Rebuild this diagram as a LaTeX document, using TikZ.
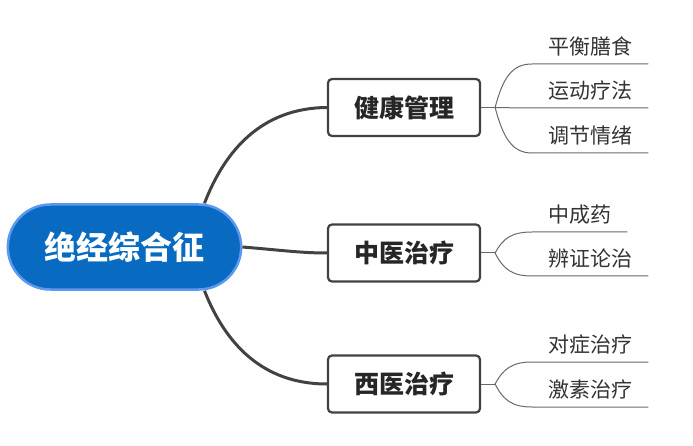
\documentclass[tikz,border=0pt]{standalone}
\usepackage{fontspec}
\newfontfamily\cjk{Noto Sans CJK SC}
\usetikzlibrary{shapes.misc,positioning}
\definecolor{rootblue}{RGB}{8,106,192}
\definecolor{rootedge}{RGB}{92,152,240}
\definecolor{stemgray}{RGB}{66,66,66}
\definecolor{twiggray}{RGB}{105,105,105}
% fork -> leaf, then the underline of the leaf
\newcommand{\twig}[3]{%
  \draw[twigline] (#1) .. controls +(8,#3) and +(-20,0) .. (#2.south west)
    -- (#2.south east);}

\begin{document}
\begin{tikzpicture}[x=1pt,y=-1pt,
    rootnode/.style={rounded rectangle,fill=rootblue,draw=rootedge,line width=2.5pt,
      minimum width=240pt,minimum height=85pt,text=white,
      font=\cjk\bfseries\fontsize{32}{36}\selectfont},
    branchbox/.style={rectangle,rounded corners=4pt,fill=white,draw=stemgray,
      line width=2.2pt,minimum width=152pt,minimum height=57pt,text=black!85,
      font=\cjk\bfseries\fontsize{25}{28}\selectfont},
    leaf/.style={anchor=south west,inner xsep=16pt,inner ysep=9pt,text depth=0pt,
      text=black!80,font=\cjk\fontsize{21}{24}\selectfont},
    stem/.style={draw=stemgray,line width=3pt},
    twigline/.style={draw=twiggray,line width=1pt}]
  \useasboundingbox (0,0) rectangle (693,446);

  \node[rootnode] (root) at (124.5,247) {绝经综合征};

  \node[branchbox] (hm) at (404,107.5) {健康管理};
  \node[branchbox] (tcm) at (404,253) {中医治疗};
  \node[branchbox] (wm) at (404,384) {西医治疗};

  % root -> branches
  \draw[stem] ([xshift=80pt]root.north) .. controls (225,150) and (262,108) .. (hm.west);
  \draw[stem] (root.east) .. controls (280,250) and (300,253) .. (tcm.west);
  \draw[stem] ([xshift=80pt]root.south) .. controls (225,343) and (262,384) .. (wm.west);

  % forks
  \coordinate (hmf) at ([xshift=14pt]hm.east);
  \coordinate (tcmf) at ([xshift=14pt]tcm.east);
  \coordinate (wmf) at ([xshift=14pt]wm.east);
  \draw[twigline] (hm.east) -- (hmf);
  \draw[twigline] (tcm.east) -- (tcmf);
  \draw[twigline] (wm.east) -- (wmf);

  % leaves
  \node[leaf] (hm1) at (532,64) {平衡膳食};
  \node[leaf] (hm2) at (532,108) {运动疗法};
  \node[leaf] (hm3) at (532,153) {调节情绪};
  \node[leaf] (tcm1) at (532,232) {中成药};
  \node[leaf] (tcm2) at (532,276) {辨证论治};
  \node[leaf] (wm1) at (532,362) {对症治疗};
  \node[leaf] (wm2) at (532,407) {激素治疗};

  \twig{hmf}{hm1}{-30}
  \twig{hmf}{hm2}{0}
  \twig{hmf}{hm3}{30}
  \twig{tcmf}{tcm1}{-15}
  \twig{tcmf}{tcm2}{16}
  \twig{wmf}{wm1}{-15}
  \twig{wmf}{wm2}{16}
\end{tikzpicture}
\end{document}
